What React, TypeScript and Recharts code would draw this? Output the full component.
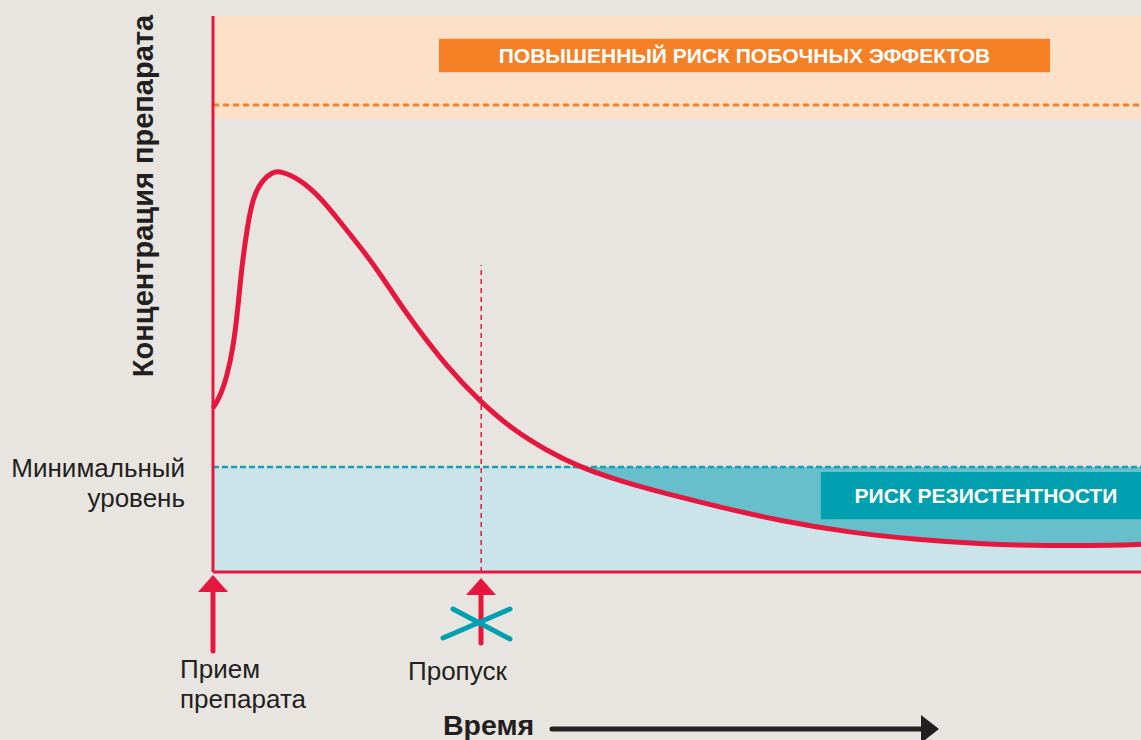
import React from "react";
import {
  ComposedChart,
  Line,
  Area,
  XAxis,
  YAxis,
  ReferenceArea,
  ReferenceLine,
  Customized,
} from "recharts";

// time (0..100) and drug concentration (0..100)
const TIME = [0, 0.75, 1.5, 2.2, 2.7, 3.1, 3.7, 4.3, 5.3, 6.4, 7.2, 9.4, 11.5, 13.7, 16.6, 18.0, 20.2, 21.6, 25.2, 28.8, 32.3, 36.0, 39.5, 43.1, 46.8, 50.3, 54.3, 61.4, 68.6, 75.9, 83.0, 90.2, 97.4, 100];
const CONC = [29.5, 31.5, 35.1, 40.5, 47.7, 54.9, 62.1, 67.4, 70.5, 71.9, 72.2, 70.6, 67.5, 63.0, 56.9, 53.6, 48.1, 44.8, 36.9, 30.6, 25.6, 21.8, 18.9, 16.8, 15.0, 13.5, 11.8, 9.1, 7.1, 5.8, 5.0, 4.7, 4.8, 5.0];

const MIN_LEVEL = 18.9;
const TOXIC_LEVEL = 84;
const TOXIC_BAND = [81.5, 100];
const MISSED_DOSE = 28.9;
const MISSED_TOP = 55.2;

const data = TIME.map((t, i) => ({ t, c: CONC[i] }));

const RED = "#e5173f";
const TEAL = "#00a0b0";
const FONT = "'Liberation Sans', Arial, sans-serif";

const Annotations = () => (
  <g fontFamily={FONT} fill="#231f20">
    <text transform="translate(153,196) rotate(-90)" textAnchor="middle" fontSize={29} fontWeight="bold">
      Концентрация препарата
    </text>
    <text x={185} y={477} textAnchor="end" fontSize={26}>Минимальный</text>
    <text x={185} y={507} textAnchor="end" fontSize={26}>уровень</text>
    <text x={180} y={678} fontSize={26}>Прием</text>
    <text x={180} y={708} fontSize={26}>препарата</text>
    <text x={408} y={680} fontSize={26}>Пропуск</text>
    <text x={443} y={735} fontSize={28.5} fontWeight="bold">Время</text>
    <line x1={552} y1={729} x2={925} y2={729} stroke="#231f20" strokeWidth={5} strokeLinecap="round" />
    <polygon points="921,715 939,729 921,743" fill="#231f20" />

    <polygon points="198,592 213,575 228,592" fill={RED} />
    <line x1={213} y1={590} x2={213} y2={651} stroke={RED} strokeWidth={5} strokeLinecap="round" />
    <polygon points="466,595 481,578 496,595" fill={RED} />
    <line x1={481} y1={593} x2={481} y2={643} stroke={RED} strokeWidth={5} strokeLinecap="round" />
    <line x1={443} y1={638} x2={510} y2={609} stroke={TEAL} strokeWidth={5} strokeLinecap="round" />
    <line x1={453} y1={609} x2={510} y2={639} stroke={TEAL} strokeWidth={5} strokeLinecap="round" />
  </g>
);

export default function App() {
  return (
    <div style={{ position: "absolute", left: 0, top: 0, width: 1141, height: 740, background: "#e8e5e0", overflow: "hidden" }}>
      <ComposedChart width={1141} height={740} data={data} margin={{ top: 16, right: 0, left: 213, bottom: 168 }}>
        <XAxis dataKey="t" type="number" domain={[0, 100]} hide />
        <YAxis type="number" domain={[0, 100]} hide />

        <ReferenceArea y1={TOXIC_BAND[0]} y2={TOXIC_BAND[1]} fill="#fde0c8" fillOpacity={1} />
        <ReferenceArea y1={0} y2={MIN_LEVEL} fill="#cbe4e9" fillOpacity={1} />

        <Area
          type="basis"
          dataKey={(d: { c: number }) => [Math.min(d.c, MIN_LEVEL), MIN_LEVEL]}
          fill="#66bfcb"
          fillOpacity={1}
          stroke="none"
          isAnimationActive={false}
        />

        <ReferenceLine y={TOXIC_LEVEL} stroke="#f58026" strokeWidth={3} strokeDasharray="6 4" />
        <ReferenceLine y={MIN_LEVEL} stroke="#13a2b5" strokeWidth={2.5} strokeDasharray="6 3" />
        <ReferenceLine
          segment={[{ x: MISSED_DOSE, y: 0 }, { x: MISSED_DOSE, y: MISSED_TOP }]}
          stroke={RED}
          strokeWidth={1.5}
          strokeDasharray="5 4"
        />

        <ReferenceArea
          x1={24.35}
          x2={90.2}
          y1={89.9}
          y2={95.9}
          fill="#f58026"
          fillOpacity={1}
          label={{ value: "ПОВЫШЕННЫЙ РИСК ПОБОЧНЫХ ЭФФЕКТОВ", position: "center", fill: "#ffffff", fontSize: 21, fontWeight: "bold", fontFamily: FONT }}
        />
        <ReferenceArea
          x1={65.5}
          x2={100}
          y1={9.5}
          y2={18.0}
          fill={TEAL}
          fillOpacity={1}
          label={{ value: "РИСК РЕЗИСТЕНТНОСТИ", position: "center", fill: "#ffffff", fontSize: 21, fontWeight: "bold", fontFamily: FONT, dx: 5 }}
        />

        <Line type="basis" dataKey="c" stroke={RED} strokeWidth={5} dot={false} isAnimationActive={false} />

        <ReferenceLine x={0} stroke={RED} strokeWidth={3} />
        <ReferenceLine y={0} stroke={RED} strokeWidth={3} />

        <Customized component={<Annotations />} />
      </ComposedChart>
    </div>
  );
}
